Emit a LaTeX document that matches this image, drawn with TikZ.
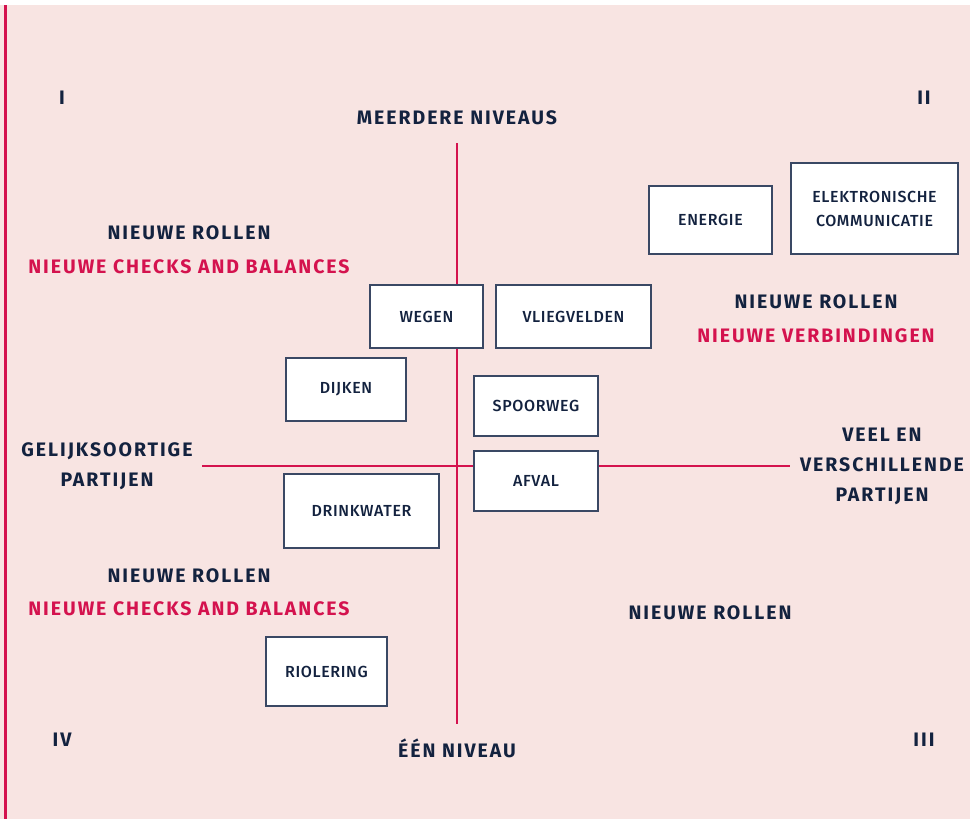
\documentclass[tikz,border=0pt]{standalone}
\usepackage{fontspec}
\setmainfont{Fira Sans}
\newfontfamily\boxfont[LetterSpace=4]{Fira Sans Medium}
\newfontfamily\headfont[LetterSpace=10]{Fira Sans Bold}
\definecolor{bg}{HTML}{F8E4E2}
\definecolor{navy}{HTML}{13223F}
\definecolor{accent}{HTML}{D4124E}
\definecolor{edge}{HTML}{3A4864}
\tikzset{
  item/.style={draw=edge, line width=1.3pt, fill=white, inner sep=0pt,
    align=center, text=navy, font=\boxfont\fontsize{16}{24}\selectfont},
  head/.style={text=navy, align=center, inner sep=0pt,
    font=\headfont\fontsize{19.5}{30}\selectfont},
  redhead/.style={head, text=accent},
  roman/.style={head},
  axis/.style={draw=accent, line width=1.1pt}
}
\begin{document}
\begin{tikzpicture}[x=1pt, y=-1pt]
  % page and background
  \useasboundingbox (0,0) rectangle (970,819);
  \fill[bg] (0,5) rectangle (970,819);
  \fill[accent] (4,5) rectangle (6.5,819);

  % axes
  \coordinate (ytop) at (457,143);
  \coordinate (ybot) at (457,724);
  \coordinate (xleft) at (202,466);
  \coordinate (xright) at (790,466);
  \draw[axis] (ytop) -- (ybot);
  \draw[axis] (xleft) -- (xright);

  % quadrant numbers
  \node[roman] (q1) at (62,98) {I};
  \node[roman] (q2) at (924,98) {II};
  \node[roman] (q3) at (924,740) {III};
  \node[roman] (q4) at (62,740) {IV};

  % axis labels
  \node[head] (top) at (457,118) {MEERDERE NIVEAUS};
  \node[head] (bottom) at (457,748) {ÉÉN NIVEAU};
  \node[head] (left) at (107,466) {GELIJKSOORTIGE\\PARTIJEN};
  \node[head] (right) at (882,466) {VEEL EN\\VERSCHILLENDE\\PARTIJEN};

  % quadrant statements
  \node[head] (r1) at (189,233) {NIEUWE ROLLEN};
  \node[redhead] (c1) at (189,267) {NIEUWE CHECKS AND BALANCES};
  \node[head] (r2) at (816,302) {NIEUWE ROLLEN};
  \node[redhead] (v2) at (816,336) {NIEUWE VERBINDINGEN};
  \node[head] (r4) at (189,576) {NIEUWE ROLLEN};
  \node[redhead] (c4) at (189,609) {NIEUWE CHECKS AND BALANCES};
  \node[head] (r3) at (710,613) {NIEUWE ROLLEN};

  % sectors
  \node[item, minimum width=123pt, minimum height=68pt] (energie) at (710.5,220) {ENERGIE};
  \node[item, minimum width=167pt, minimum height=91pt] (ecomm) at (874.5,208.5) {ELEKTRONISCHE\\COMMUNICATIE};
  \node[item, minimum width=113pt, minimum height=63pt] (wegen) at (426.5,316.5) {WEGEN};
  \node[item, minimum width=155pt, minimum height=63pt] (vlieg) at (573.5,316.5) {VLIEGVELDEN};
  \node[item, minimum width=120pt, minimum height=63pt] (dijken) at (346,389.5) {DIJKEN};
  \node[item, minimum width=124pt, minimum height=60pt] (spoor) at (536,406) {SPOORWEG};
  \node[item, minimum width=124pt, minimum height=60pt] (afval) at (536,481) {AFVAL};
  \node[item, minimum width=155pt, minimum height=74pt] (drink) at (361.5,511) {DRINKWATER};
  \node[item, minimum width=121pt, minimum height=69pt] (riool) at (326.5,671.5) {RIOLERING};
\end{tikzpicture}
\end{document}
